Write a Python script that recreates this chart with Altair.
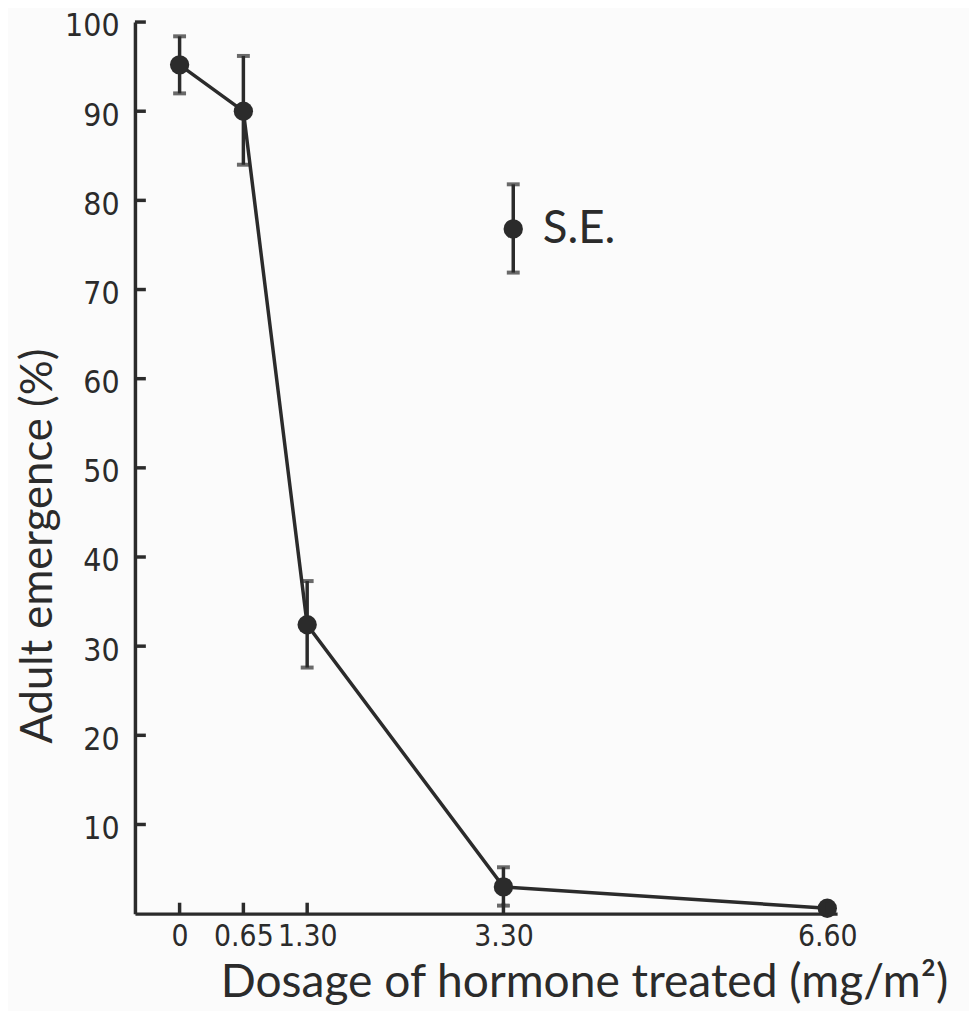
import altair as alt
import pandas as pd

# Data
dose = [0, 0.65, 1.30, 3.30, 6.60]
emergence = [95.2, 90.0, 32.4, 3.0, 0.6]
se_low = [92.0, 84.0, 27.6, 0.9, 0.6]
se_high = [98.4, 96.2, 37.3, 5.2, 0.6]

x_tick_values = [0, 0.65, 1.30, 3.30, 6.60]
y_tick_values = [10, 20, 30, 40, 50, 60, 70, 80, 90, 100]

# S.E. key drawn inside the plot
key_x = [3.40]
key_y = [76.8]
key_low = [71.9]
key_high = [81.8]
key_text_x = [3.70]
key_label = ["S.E."]

FONT = "Lato"
NARROW = "Liberation Sans Narrow, DejaVu Sans Condensed, Roboto Condensed, Lato"
INK = "#2b2b2b"
W, H = 708, 899

df = pd.DataFrame({"dose": dose, "em": emergence, "lo": se_low, "hi": se_high})
err_df = df[df["hi"] > df["lo"]]
key_df = pd.DataFrame({"x": key_x, "y": key_y, "lo": key_low, "hi": key_high,
                       "tx": key_text_x, "label": key_label})
xt_df = pd.DataFrame({"v": x_tick_values})
yt_df = pd.DataFrame({"v": y_tick_values})

xscale = alt.Scale(domain=[-0.455, 6.70], nice=False, zero=False)
yscale = alt.Scale(domain=[0, 100], nice=False)

xaxis = alt.Axis(
    values=x_tick_values,
    labelExpr="datum.value == 0 ? '0' : format(datum.value, '.2f')",
    ticks=False, grid=False,
    domainColor=INK, domainWidth=3.5,
    labelFont=NARROW, labelFontSize=30, labelColor=INK, labelPadding=8,
    labelFlush=False, labelOverlap=False,
    title="Dosage of hormone treated (mg/m²)",
    titleFont=FONT, titleFontSize=46.5, titleFontWeight="normal", titleColor=INK,
    titleAnchor="start", titleAlign="left", titleBaseline="alphabetic",
    titleX=86, titleY=84,
)
yaxis = alt.Axis(
    values=y_tick_values,
    ticks=False, grid=False,
    domainColor=INK, domainWidth=3.5,
    labelFont=NARROW, labelFontSize=32, labelColor=INK, labelPadding=16,
    labelOffset=4, labelFlush=False, labelOverlap=False,
    title="Adult emergence (%)",
    titleFont=FONT, titleFontSize=44, titleFontWeight="normal", titleColor=INK,
    titleAngle=270, titleAlign="left", titleBaseline="alphabetic",
    titleX=-84, titleY=727,
)

base = alt.Chart(df)

line = base.mark_line(color=INK, strokeWidth=3.5).encode(
    x=alt.X("dose:Q", scale=xscale, axis=xaxis),
    y=alt.Y("em:Q", scale=yscale, axis=yaxis),
)
pts = base.mark_circle(color=INK, opacity=1, size=380).encode(
    x=alt.X("dose:Q", scale=xscale),
    y=alt.Y("em:Q", scale=yscale),
)
err_bar = alt.Chart(err_df).mark_rule(color=INK, strokeWidth=3.5).encode(
    x=alt.X("dose:Q", scale=xscale),
    y=alt.Y("lo:Q", scale=yscale),
    y2="hi:Q",
)
cap_lo = alt.Chart(err_df).mark_tick(color=INK, orient="horizontal", size=13, thickness=4).encode(
    x=alt.X("dose:Q", scale=xscale),
    y=alt.Y("lo:Q", scale=yscale),
)
cap_hi = alt.Chart(err_df).mark_tick(color=INK, orient="horizontal", size=13, thickness=4).encode(
    x=alt.X("dose:Q", scale=xscale),
    y=alt.Y("hi:Q", scale=yscale),
)

# inward ticks
xticks = alt.Chart(xt_df).mark_rule(color=INK, strokeWidth=3.5).encode(
    x=alt.X("v:Q", scale=xscale),
    y=alt.value(H),
    y2=alt.value(H - 11),
)
yticks = alt.Chart(yt_df).mark_rule(color=INK, strokeWidth=3.5).encode(
    y=alt.Y("v:Q", scale=yscale),
    x=alt.value(0),
    x2=alt.value(11),
)

# S.E. key
k = alt.Chart(key_df)
key_bar = k.mark_rule(color=INK, strokeWidth=3.5).encode(
    x=alt.X("x:Q", scale=xscale), y=alt.Y("lo:Q", scale=yscale), y2="hi:Q")
key_cap_lo = k.mark_tick(color=INK, orient="horizontal", size=13, thickness=4).encode(
    x=alt.X("x:Q", scale=xscale), y=alt.Y("lo:Q", scale=yscale))
key_cap_hi = k.mark_tick(color=INK, orient="horizontal", size=13, thickness=4).encode(
    x=alt.X("x:Q", scale=xscale), y=alt.Y("hi:Q", scale=yscale))
key_pt = k.mark_circle(color=INK, opacity=1, size=380).encode(
    x=alt.X("x:Q", scale=xscale), y=alt.Y("y:Q", scale=yscale))
key_txt = k.mark_text(font=FONT, fontSize=46, color=INK, align="left", baseline="middle").encode(
    x=alt.X("tx:Q", scale=xscale), y=alt.Y("y:Q", scale=yscale), text="label:N")

chart = alt.layer(
    line, err_bar, cap_lo, cap_hi, pts, xticks, yticks,
    key_bar, key_cap_lo, key_cap_hi, key_pt, key_txt,
).properties(
    width=W, height=H,
    autosize=alt.AutoSizeParams(type="none"),
    padding={"left": 128, "top": 10, "right": 133, "bottom": 94},
    background="#fbfbfb",
).configure_view(stroke=None)

chart.save("out.html", embed_options={"renderer": "svg", "actions": False})
